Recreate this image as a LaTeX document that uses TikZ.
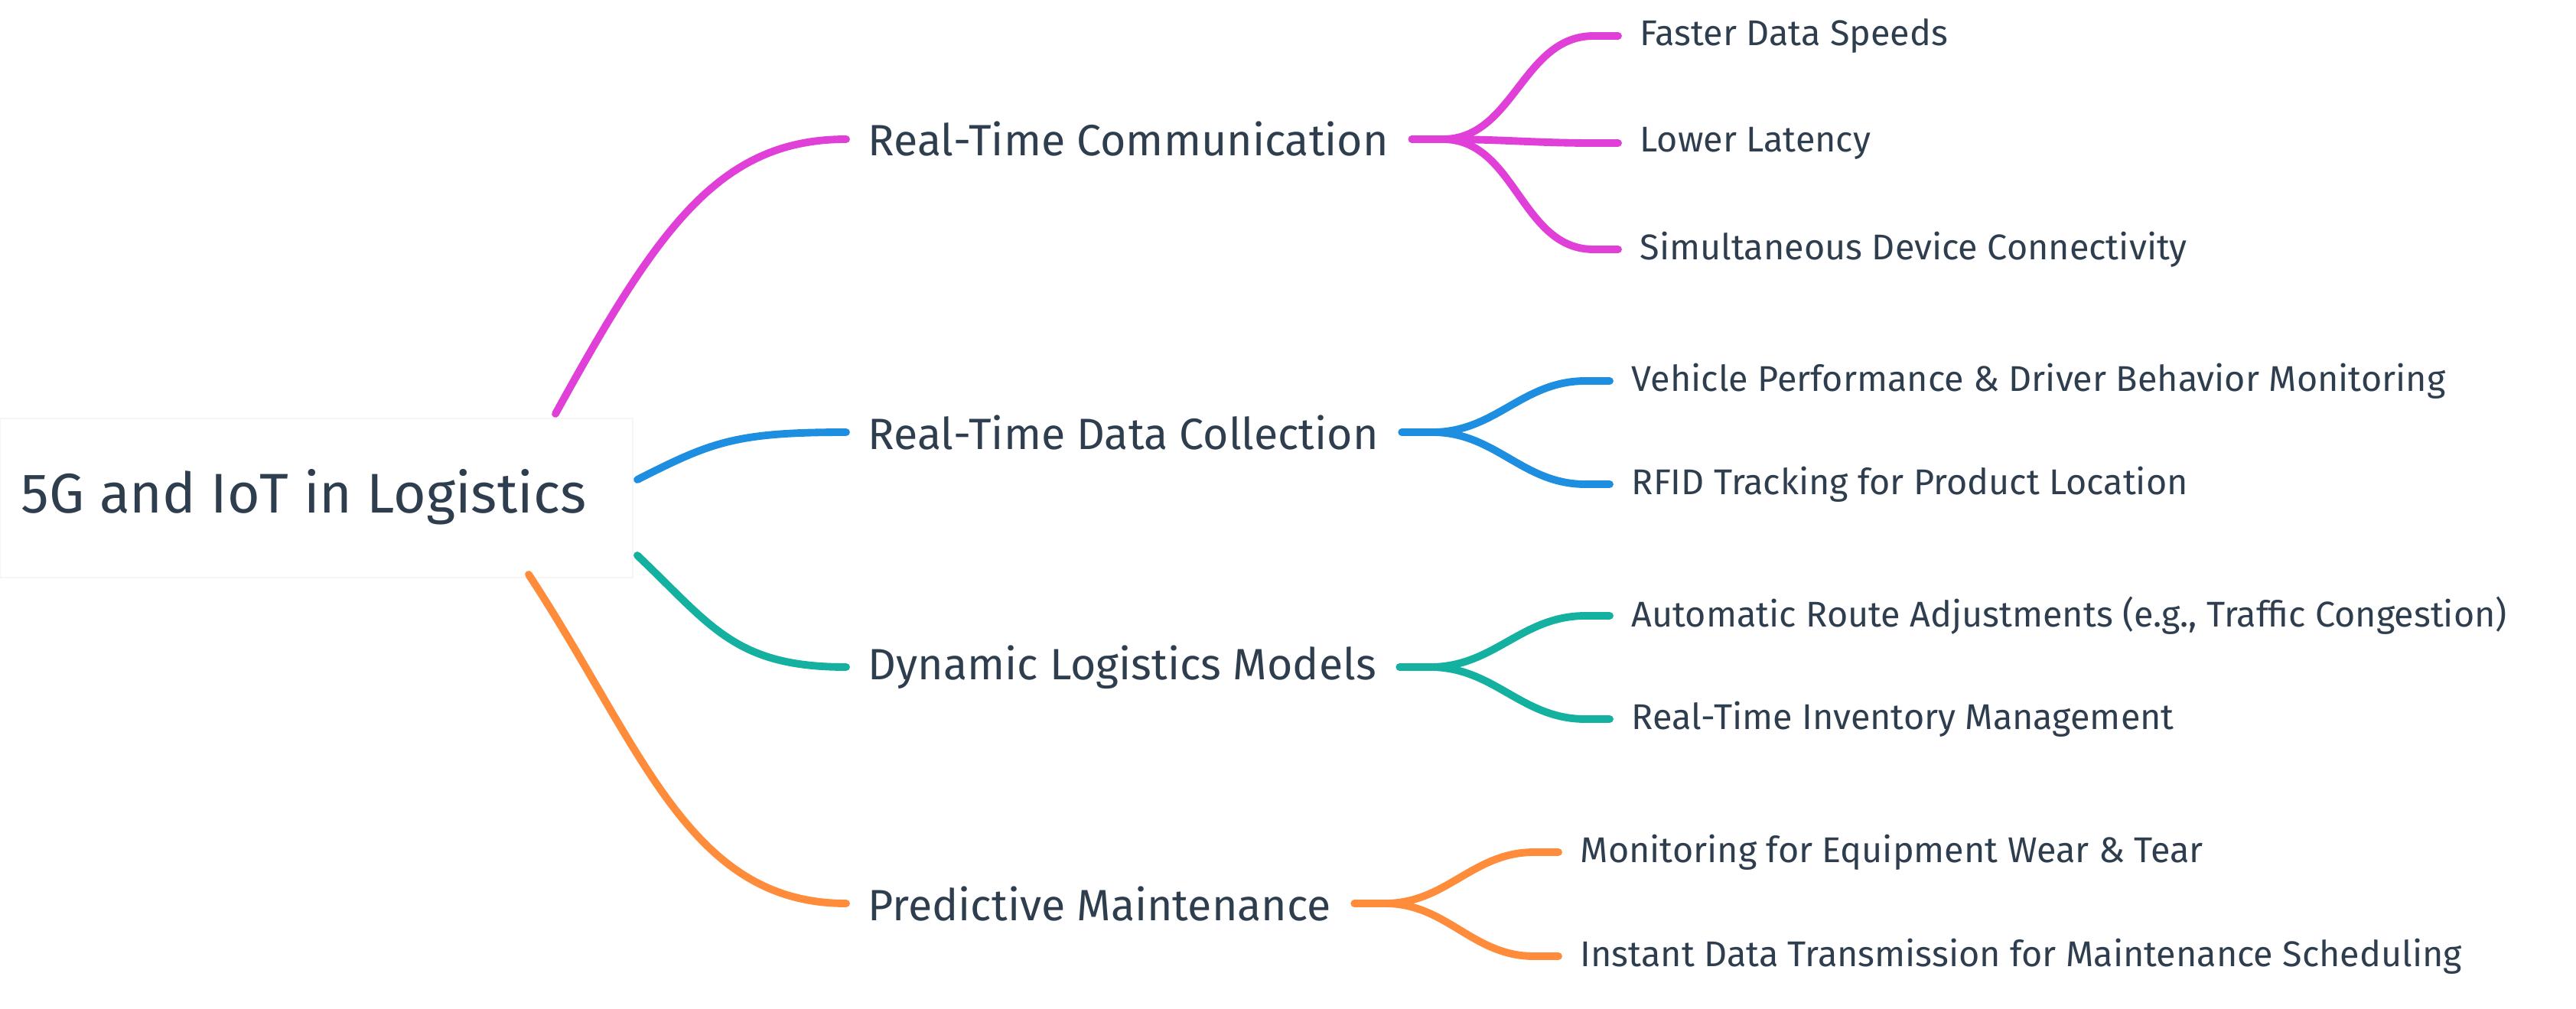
\documentclass[tikz,border=0pt]{standalone}
\usepackage{fontspec}
\setmainfont{Fira Sans}
\definecolor{txt}{HTML}{2F3E4E}
\definecolor{cpink}{HTML}{E040D8}
\definecolor{cblue}{HTML}{1E8FE0}
\definecolor{cteal}{HTML}{14B0A0}
\definecolor{corange}{HTML}{FF8C3A}
\begin{document}
\begin{tikzpicture}[
  root/.style={text=txt,font=\fontsize{20.8}{24}\selectfont,inner sep=0pt},
  mid/.style={text=txt,font=\fontsize{16.3}{19}\selectfont,anchor=west,inner sep=0pt},
  leaf/.style={text=txt,font=\fontsize{13.3}{16}\selectfont,anchor=west,inner sep=0pt},
  br/.style={line width=2.8pt,line cap=round}]
\useasboundingbox (0,0) rectangle (33.67,13.18);
\fill[white,draw=black!4] (0,5.63) rectangle (8.27,7.71);
\node[root] (r) at (3.97,6.68) {5G and IoT in Logistics};
\coordinate (s1) at (7.26,7.77);
\coordinate (s2) at (8.33,6.91);
\coordinate (s3) at (8.33,5.92);
\coordinate (s4) at (6.91,5.67);
\node[mid] (m1) at (11.34,11.36) {Real-Time Communication};
\node[mid] (m2) at (11.34,7.53) {Real-Time Data Collection};
\node[mid] (m3) at (11.34,4.46) {Dynamic Logistics Models};
\node[mid] (m4) at (11.34,1.37) {Predictive Maintenance};
\node[leaf] (l11) at (21.43,12.71) {Faster Data Speeds};
\node[leaf] (l12) at (21.43,11.31) {Lower Latency};
\node[leaf] (l13) at (21.43,9.92) {Simultaneous Device Connectivity};
\node[leaf] (l21) at (21.32,8.20) {Vehicle Performance \& Driver Behavior Monitoring};
\node[leaf] (l22) at (21.32,6.85) {RFID Tracking for Product Location};
\node[leaf] (l31) at (21.32,5.13) {Automatic Route Adjustments (e.g., Traffic Congestion)};
\node[leaf] (l32) at (21.32,3.78) {Real-Time Inventory Management};
\node[leaf] (l41) at (20.65,2.04) {Monitoring for Equipment Wear \& Tear};
\node[leaf] (l42) at (20.65,0.68) {Instant Data Transmission for Maintenance Scheduling};
% main branches
\draw[br,cpink] (s1) .. controls (8.6,10.2) and (9.4,11.36) .. ([xshift=-0.28cm]m1.west);
\draw[br,cblue] (s2) .. controls (9.3,7.4) and (9.6,7.53) .. ([xshift=-0.28cm]m2.west);
\draw[br,cteal] (s3) .. controls (9.3,5.0) and (9.6,4.46) .. ([xshift=-0.28cm]m3.west);
\draw[br,corange] (s4) .. controls (8.4,3.4) and (9.0,1.37) .. ([xshift=-0.28cm]m4.west);
% fans
\foreach \m/\l/\c in {m1/l11/cpink,m1/l12/cpink,m1/l13/cpink,m2/l21/cblue,m2/l22/cblue,m3/l31/cteal,m3/l32/cteal,m4/l41/corange,m4/l42/corange}{
  \draw[br,\c] ([xshift=0.3cm]\m.east) -- ++(0.4,0) to[out=0,in=180] ([xshift=-0.6cm]\l.west) -- ([xshift=-0.28cm]\l.west);
}
\end{tikzpicture}
\end{document}
